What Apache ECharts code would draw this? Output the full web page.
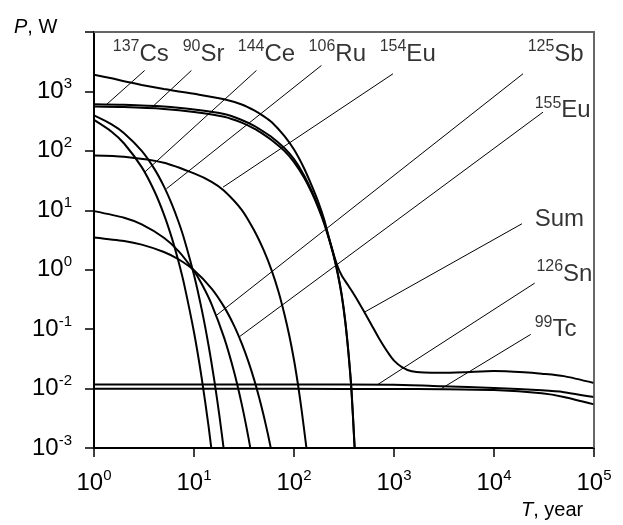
<!DOCTYPE html>
<html><head><meta charset="utf-8">
<script src="https://cdn.jsdelivr.net/npm/echarts@6/dist/echarts.min.js"></script>
<style>html,body{margin:0;padding:0;background:#fff}#c{width:623px;height:525px}</style>
</head><body><div id="c"></div>
<script>
// ---- data (T in years, P in W) ----
const tSum = [1,1.5,2,3,5,7,10,20,30,40,50,60,80,100,125,150,175,200,225,250,275,300,350,400,500,600,700,800,900,1000,1200,1500,2000,3000,5000,10000,20000,30000,50000,100000];
const pSum = [1905,1660,1479,1288,1096,1000,912,741,603,479,380,302,178,105,52.5,26.3,13.8,7.08,3.31,1.78,1.10,0.80,0.537,0.380,0.200,0.115,0.0724,0.0501,0.0372,0.0295,0.0229,0.0195,0.0186,0.0184,0.0188,0.0197,0.0188,0.0178,0.0162,0.0124];

const tCsSr = [1,2,5,10,20,30,40,50,60,80,100,125,150,175,200,225,250,275,300,325,350,375,400,410];
const pCs = [610,597,556,495,417,331,263,209,170,112,72.4,39.8,21.4,11.5,6.31,3.31,1.74,0.851,0.380,0.141,0.0417,0.0100,0.00141,0.000631];
const pSr = [556,545,507,452,376,299,237,188,151,100,64.6,36.3,20.0,11.0,6.03,3.16,1.66,0.813,0.363,0.135,0.0398,0.00955,0.00135,0.000603];

const tCe = [1,1.5,2,3,4,5,6,7,8,10,12,14,16];
const pCe = [331,210,133,53.2,21.3,8.55,3.43,1.37,0.551,0.0885,0.0142,0.00229,0.000367];

const tRu = [1,1.5,2,3,4,5,6,7,8,10,12,14,16,18,20];
const pRu = [394,279,198,99.8,50.2,25.3,12.7,6.41,3.23,0.818,0.207,0.0526,0.0133,0.00338,0.000857];

const tSb = [1,2,3,5,7,10,12,15,20,25,30,35,40];
const pSb = [9.68,7.48,5.78,3.45,2.06,0.951,0.568,0.262,0.0721,0.0199,0.00547,0.00151,0.000415];

const tEu155 = [1,2,3,5,7,10,15,20,25,30,35,40,45,50,55,60];
const pEu155 = [3.50,3.04,2.64,1.99,1.50,0.978,0.482,0.237,0.117,0.0576,0.0284,0.0140,0.00689,0.00339,0.00167,0.000823];

const tEu154 = [1,2,5,10,15,20,30,40,50,60,70,80,90,100,110,120,130,140];
const pEu154 = [83.6,79.4,63.1,41.7,30.2,21.4,10.2,4.57,2.09,0.955,0.427,0.182,0.0759,0.0302,0.0112,0.00398,0.00138,0.0005];

const tLong = [1,100,1000,3000,10000,30000,50000,100000];
const pSn = [0.0117,0.0117,0.01164,0.01096,0.01023,0.00933,0.00871,0.00719];
const pTc = [0.00989,0.00989,0.00982,0.00977,0.00944,0.00832,0.00724,0.00542];

// labels: mass number, element, anchor (left edge / text middle) in data coords
const labelMass = ['137','90','144','106','154','125','155','','126','99'];
const labelElem = ['Cs','Sr','Ce','Ru','Eu','Sb','Eu','Sum','Sn','Tc'];
const labelT = [1.54,7.71,27.4,140,719,21700,25500,25500,26550,25500];
const labelP = [4266,4266,4266,4266,4266,4266,479,7.02,0.85,0.099];

// leader lines: from (near label) -> to (on curve)
const leadFromT = [3.21,9.42,42.1,188,977,19500,30900,19050,25530,23280];
const leadFromP = [2250,2250,2250,2735,1982,1982,448,5.94,0.595,0.0816];
const leadToT = [1.33,3.75,3.21,5.3,19.5,16.7,28.6,509,692,2978];
const leadToP = [600,530,43.8,23,24.5,0.17,0.075,0.194,0.01177,0.0100];

const xTicks = [1,10,100,1000,10000,100000];
const yMin = 0.001, yMax = 10000;

// ---- chart ----
const FONT = '"Liberation Sans", Arial, Helvetica, sans-serif';
const chart = echarts.init(document.getElementById('c'));
const pair = (t,p) => t.map((x,i)=>[x,p[i]]);
const rich = {
  b:{fontSize:24, fontFamily:FONT, color:'#000', lineHeight:30},
  s:{fontSize:15, fontFamily:FONT, color:'#000', lineHeight:14, verticalAlign:'top'}
};
const expFmt = v => { const e = Math.round(Math.log10(v)); return '{b|10}{s|' + e + '}'; };
const curve = (name,t,p) => ({
  name, type:'line', data: pair(t,p), showSymbol:false, symbol:'none',
  smooth:0.25, clip:true, silent:true,
  lineStyle:{color:'#000', width:2}, z:3
});
const titles = [
  {type:'text', left:14, top:17, style:{text:'{i|P}{n|, W}', rich:{i:{fontSize:20, fontStyle:'italic', fontFamily:FONT, fill:'#000'}, n:{fontSize:20, fontFamily:FONT, fill:'#000'}}}},
  {type:'text', left:521, top:500, style:{text:'{i|T}{n|, year}', rich:{i:{fontSize:20, fontStyle:'italic', fontFamily:FONT, fill:'#000'}, n:{fontSize:20, fontFamily:FONT, fill:'#000'}}}}
];

const option = {
  animation:false,
  grid:{left:94, right:29, top:32, bottom:77, show:true, borderColor:'#666', borderWidth:1.5},
  xAxis:[{
    type:'log', logBase:10, min:xTicks[0], max:xTicks[xTicks.length-1], splitNumber:5,
    axisLine:{show:true, lineStyle:{color:'#000', width:2}},
    axisTick:{show:true, length:9, lineStyle:{color:'#000', width:1.5}},
    minorTick:{show:false}, splitLine:{show:false},
    axisLabel:{margin:20, formatter: expFmt, rich}
  }, {
    type:'log', position:'top', min:xTicks[0], max:xTicks[xTicks.length-1],
    axisLine:{show:true, lineStyle:{color:'#666', width:1.5}},
    axisTick:{show:false}, axisLabel:{show:false}, splitLine:{show:false}
  }],
  yAxis:[{
    type:'log', logBase:10, min:yMin, max:yMax, splitNumber:7,
    axisLine:{show:true, lineStyle:{color:'#000', width:2}},
    axisTick:{show:true, length:9, lineStyle:{color:'#000', width:1.5}},
    minorTick:{show:false}, splitLine:{show:false},
    axisLabel:{margin:22, formatter: v => (Math.round(Math.log10(v)) >= 4 ? '' : expFmt(v)), rich}
  }, {
    type:'log', position:'right', min:yMin, max:yMax,
    axisLine:{show:true, lineStyle:{color:'#666', width:1.5}},
    axisTick:{show:false}, axisLabel:{show:false}, splitLine:{show:false}
  }],
  graphic: titles,
  series:[
    curve('Sum', tSum, pSum),
    curve('137Cs', tCsSr, pCs),
    curve('90Sr', tCsSr, pSr),
    curve('144Ce', tCe, pCe),
    curve('106Ru', tRu, pRu),
    curve('125Sb', tSb, pSb),
    curve('155Eu', tEu155, pEu155),
    curve('154Eu', tEu154, pEu154),
    curve('126Sn', tLong, pSn),
    curve('99Tc', tLong, pTc),
    {
      type:'lines', coordinateSystem:'cartesian2d', silent:true, z:2,
      lineStyle:{color:'#000', width:1, opacity:1, curveness:0},
      data: leadFromT.map((t,i)=>({coords:[[t,leadFromP[i]],[leadToT[i],leadToP[i]]]}))
    },
    {
      type:'scatter', symbolSize:0, silent:true, z:4,
      data: labelT.map((t,i)=>[t,labelP[i]]),
      label:{show:true, position:'right', distance:0,
        formatter: p => (labelMass[p.dataIndex] ? '{s|'+labelMass[p.dataIndex]+'}' : '') + '{b|'+labelElem[p.dataIndex]+'}',
        rich:{
          b:{fontSize:24, fontFamily:FONT, color:'#000', lineHeight:30},
          s:{fontSize:16, fontFamily:FONT, color:'#000', lineHeight:14, verticalAlign:'top'}
        }}
    }
  ]
};
chart.setOption(option);

// gray frame on top and right, placed through the axes' own scales
const fin = {xAxisIndex:0, yAxisIndex:0};
const pTL = chart.convertToPixel(fin, [xTicks[0], yMax]);
const pTR = chart.convertToPixel(fin, [xTicks[xTicks.length-1], yMax]);
const pBR = chart.convertToPixel(fin, [xTicks[xTicks.length-1], yMin]);
chart.setOption({graphic: titles.concat([{
  type:'polyline', z:100, silent:true,
  shape:{points:[[pTL[0], pTL[1]], [pTR[0], pTR[1]], [pBR[0], pBR[1]]]},
  style:{stroke:'#666', lineWidth:1.5}
}])});
</script></body></html>
